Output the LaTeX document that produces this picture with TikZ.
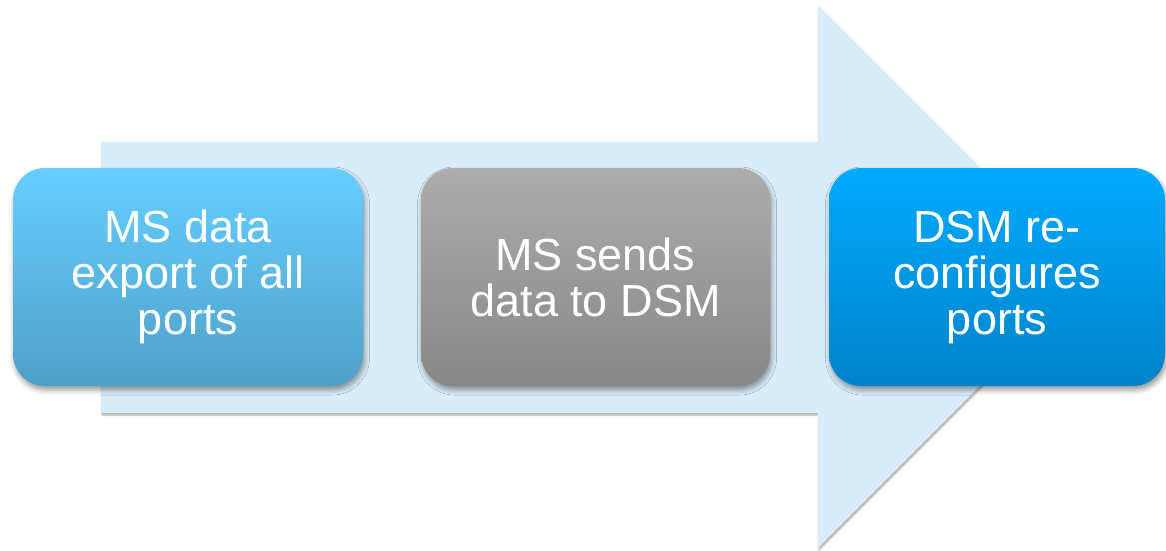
\documentclass[tikz,border=0pt]{standalone}
\usepackage{fontspec}
\setmainfont{Liberation Sans}
\usetikzlibrary{shadows.blur}

\definecolor{arrowfill}{HTML}{D9ECF9}
\definecolor{skytop}{HTML}{66CFFF}
\definecolor{skybot}{HTML}{50A0C8}
\definecolor{greytop}{HTML}{ADADAD}
\definecolor{greybot}{HTML}{878787}
\definecolor{bluetop}{HTML}{00AAFF}
\definecolor{bluebot}{HTML}{0082C8}

\tikzset{
  stepbox/.style={
    rounded corners=32pt, minimum height=218pt, inner sep=0pt,
    align=center, text=white,
    font=\fontsize{45}{46}\selectfont,
    blur shadow={shadow xshift=1.5pt, shadow yshift=-4pt,
                 shadow blur radius=5pt, shadow opacity=40}
  },
  flowarrow/.style={
    fill=arrowfill,
    blur shadow={shadow xshift=1pt, shadow yshift=-2pt,
                 shadow blur radius=2pt, shadow opacity=35}
  }
}

\begin{document}
\begin{tikzpicture}[x=1pt,y=-1pt]
  \useasboundingbox (0,0) rectangle (1166,550);

  % large pale process arrow behind the steps
  \path[flowarrow] (101,142) -- (818,142) -- (818,6) -- (1089,277)
    -- (818,548) -- (818,413) -- (101,413) -- cycle;

  % the three steps
  \node[stepbox, minimum width=350pt, top color=skytop, bottom color=skybot]
    (export) at (188,277) {MS data\\export of all\\ports};
  \node[stepbox, minimum width=349pt, top color=greytop, bottom color=greybot]
    (send) at (595.5,277) {MS sends\\data to DSM};
  \node[stepbox, minimum width=336pt, top color=bluetop, bottom color=bluebot]
    (reconf) at (997,277) {DSM re-\\configures\\ports};
\end{tikzpicture}
\end{document}
